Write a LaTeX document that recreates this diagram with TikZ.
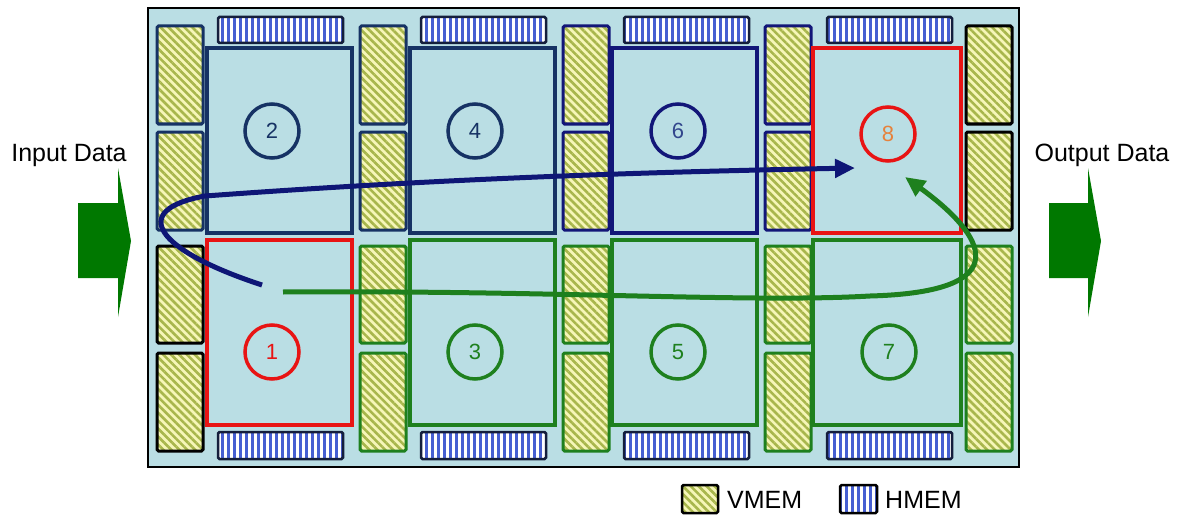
\documentclass[tikz,border=0pt]{standalone}
\usepackage{fontspec}
\setmainfont{Liberation Sans}
\usetikzlibrary{patterns.meta,arrows.meta}
\definecolor{bg}{RGB}{186,222,228}
\definecolor{navy}{RGB}{22,50,100}
\definecolor{navyb}{RGB}{18,22,120}
\definecolor{tred}{RGB}{232,20,20}
\definecolor{tgreen}{RGB}{30,128,30}
\definecolor{pale}{RGB}{246,246,184}
\definecolor{olivest}{RGB}{168,182,76}
\definecolor{hblue}{RGB}{70,95,210}
\definecolor{hborder}{RGB}{20,30,60}
\definecolor{arrblue}{RGB}{14,22,118}
\definecolor{bigarrow}{RGB}{0,120,0}
\definecolor{orangetxt}{RGB}{230,130,60}
\definecolor{sixtxt}{RGB}{50,70,140}
\begin{document}
\begin{tikzpicture}[x=1pt,y=-1pt,
 vmem/.style={preaction={fill=pale}, pattern={Lines[angle=-45,distance=5.6pt,line width=2.6pt]}, pattern color=olivest, line width=3pt, rounded corners=1.5pt},
 hmem/.style={preaction={fill=white}, pattern={Lines[angle=90,distance=6pt,line width=3pt]}, pattern color=hblue, draw=hborder, line width=2.5pt, rounded corners=1.5pt},
 tile/.style={draw, line width=4.5pt, minimum width=145pt, minimum height=185pt, inner sep=0pt},
 num/.style={circle, draw, line width=3.5pt, minimum size=54pt, inner sep=0pt, font=\fontsize{22}{22}\selectfont},
 flow/.style={line width=5pt, -{Triangle[length=20pt,width=18pt]}},
 lbl/.style={font=\fontsize{25}{25}\selectfont, inner sep=0pt},
 bigarr/.style={fill=bigarrow}
]
\useasboundingbox (0,0) rectangle (1182,524);
% outer board
\path[fill=bg, draw=black, line width=2pt] (148,8) rectangle (1019,467);
% HMEMs
\foreach \x in {218,421,624,827}{
  \path[hmem] (\x,17) rectangle ++(125,26);
  \path[hmem] (\x,432) rectangle ++(125,27);
}
% VMEMs: column x, top two colour, bottom two colour
\foreach \x/\ct/\cb in {157/navy/black,360/navy/tgreen,563/navyb/tgreen,765/navyb/tgreen,966/black/tgreen}{
  \path[vmem, draw=\ct] (\x,26) rectangle ++(46,98);
  \path[vmem, draw=\ct] (\x,132) rectangle ++(46,98);
  \path[vmem, draw=\cb] (\x,246) rectangle ++(46,97);
  \path[vmem, draw=\cb] (\x,353) rectangle ++(46,98);
}
% tiles
\node[tile, draw=navy] (t2) at (279.5,140.5) {};
\node[tile, draw=navy] (t4) at (482.5,140.5) {};
\node[tile, draw=navyb] (t6) at (684.5,140.5) {};
\node[tile, draw=tgreen] (t3) at (482.5,332.5) {};
\node[tile, draw=tgreen] (t5) at (684.5,332.5) {};
\node[tile, draw=tgreen, minimum width=148pt] (t7) at (887,332.5) {};
\node[tile, draw=tred] (t1) at (279.5,332.5) {};
\node[tile, draw=tred, minimum width=148pt] (t8) at (887,140.5) {};
% numbered circles
\node[num, draw=navy, text=navy] (c2) at (272,131) {2};
\node[num, draw=navy, text=navy] (c4) at (475,131) {4};
\node[num, draw=navyb, text=sixtxt] (c6) at (678,131) {6};
\node[num, draw=tred, text=orangetxt] (c8) at (888,134) {8};
\node[num, draw=tred, text=tred] (c1) at (272,352) {1};
\node[num, draw=tgreen, text=tgreen] (c3) at (475,352) {3};
\node[num, draw=tgreen, text=tgreen] (c5) at (678,352) {5};
\node[num, draw=tgreen, text=tgreen] (c7) at (889,352) {7};
% flow arrows
\coordinate (bs) at (262,285);
\coordinate (bl) at (205,196);
\coordinate (be) at (855,168);
\draw[flow, arrblue] (bs) .. controls (155,250) and (128,210) .. (bl) .. controls (450,178) and (650,172) .. (be);
\coordinate (gs) at (283,292);
\coordinate (gm) at (870,296);
\coordinate (ge) at (905,177);
\draw[flow, tgreen] (gs) .. controls (550,290) and (750,303) .. (gm) .. controls (1020,292) and (985,235) .. (ge);
% input / output big arrows
\path[bigarr] (78,203) -- (118,203) -- (118,168) -- (131,241) -- (118,317) -- (118,278) -- (78,278) -- cycle;
\path[bigarr] (1049,203) -- (1088,203) -- (1088,168) -- (1101,241) -- (1088,317) -- (1088,278) -- (1049,278) -- cycle;
\node[lbl] (inlab) at (69,155) {Input Data};
\node[lbl] (outlab) at (1102,155) {Output Data};
% legend
\path[vmem, draw=black, line width=2.5pt] (682,485) rectangle (718,513);
\node[lbl, anchor=west] (lv) at (727,500) {VMEM};
\path[hmem, draw=black] (840,485) rectangle (877,513);
\node[lbl, anchor=west] (lh) at (885,500) {HMEM};
\end{tikzpicture}
\end{document}
